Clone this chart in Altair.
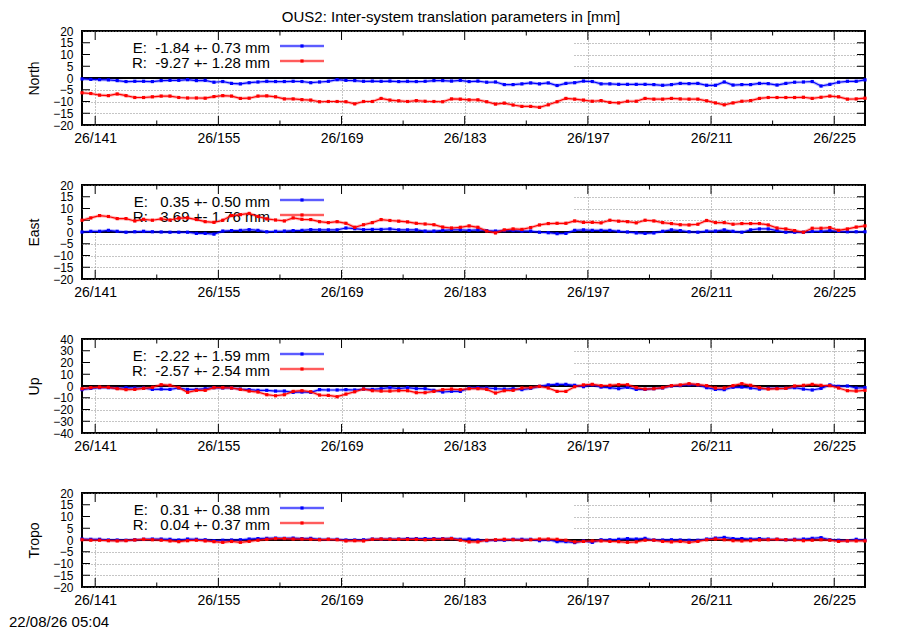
import altair as alt
import pandas as pd

FONT = "Liberation Sans"
FS = 15          # title, legend, timestamp
FS_X = 14        # x tick labels
FS_Y = 12        # y tick labels
FS_T = 14        # axis titles
TITLE = "OUS2: Inter-system translation parameters in [mm]"
STAMP = "22/08/26 05:04"

DAY0 = 139.5
DAYS = [DAY0 + i for i in range(90)]
X_DOMAIN = [139.5, 228.5]
X_MAJOR = [141, 155, 169, 183, 197, 211, 225]
X_MINOR = [148, 162, 176, 190, 204, 218]
X_PREFIX = "26/"

Y20 = [-20, -15, -10, -5, 0, 5, 10, 15, 20]
Y40 = [-40, -30, -20, -10, 0, 10, 20, 30, 40]

NORTH_E = [-0.4, -0.6, -0.7, -0.8, -1.1, -1.5, -1.4, -1.4, -1.5, -1.1,
           -1.0, -1.0, -0.7, -1.1, -1.0, -1.8, -1.5, -2.3, -2.5, -2.0,
           -1.7, -1.4, -1.5, -1.5, -1.4, -1.5, -2.0, -1.7, -1.4, -0.7,
           -1.0, -1.1, -1.4, -1.3, -1.4, -1.3, -1.5, -1.4, -1.5, -1.4,
           -1.1, -1.1, -1.3, -1.0, -1.5, -1.3, -1.8, -1.7, -2.8, -2.8,
           -2.5, -2.1, -2.5, -2.1, -3.2, -2.3, -2.0, -1.3, -1.5, -2.5,
           -2.5, -2.7, -2.7, -2.7, -2.7, -2.8, -3.1, -2.8, -2.3, -2.4,
           -2.3, -3.1, -3.1, -1.7, -3.0, -2.8, -2.8, -2.3, -2.4, -3.0,
           -2.3, -1.8, -1.7, -1.5, -3.4, -2.7, -1.8, -1.4, -1.4, -0.8]
NORTH_R = [-6.3, -6.6, -7.3, -7.5, -6.8, -7.5, -8.3, -8.3, -8.0, -7.7,
           -7.7, -8.3, -8.5, -8.5, -8.6, -7.9, -7.5, -7.7, -8.7, -8.6,
           -7.7, -7.6, -8.0, -8.9, -8.9, -9.2, -9.4, -10.1, -10.0, -10.0,
           -10.1, -11.0, -10.0, -10.0, -8.7, -9.4, -9.7, -10.0, -9.6, -9.9,
           -10.0, -10.1, -8.9, -9.0, -9.3, -9.3, -10.1, -11.1, -10.7, -11.5,
           -12.1, -12.1, -12.5, -11.4, -10.1, -8.7, -9.0, -9.4, -9.9, -9.6,
           -10.4, -10.6, -9.9, -9.9, -8.7, -9.0, -9.0, -8.7, -8.9, -9.0,
           -9.0, -9.7, -10.6, -11.4, -10.6, -9.9, -9.6, -8.7, -8.3, -8.3,
           -8.3, -8.3, -8.2, -8.7, -8.2, -7.7, -8.0, -9.0, -8.9, -8.6]

EAST_E = [0.0, 0.3, 0.3, 0.7, 0.3, -0.1, 0.1, 0.3, 0.1, 0.0,
          -0.1, -0.1, -0.1, -0.6, -0.6, -0.9, 0.4, 0.6, 0.7, 1.0,
          0.7, 0.1, 0.3, 0.4, 0.6, 0.7, 1.0, 0.9, 0.9, 0.9,
          1.7, 1.4, 1.0, 1.1, 1.1, 1.3, 0.9, 0.9, 0.9, 0.4,
          0.4, 0.7, 0.9, 0.9, 0.7, 0.9, 0.6, 0.4, 0.6, 0.6,
          0.4, 0.4, -0.1, -0.3, -0.7, -0.6, 0.7, 0.9, 0.7, 0.7,
          0.7, 0.3, 0.0, -0.4, -0.6, -0.4, 0.3, 0.9, 0.6, 0.1,
          -0.1, 0.4, 0.4, 0.9, 0.3, -0.1, 0.9, 1.3, 1.3, 0.6,
          -0.1, -0.1, -0.1, 0.3, 0.3, 0.6, 0.3, 0.1, 0.1, 0.1]
EAST_R = [5.0, 6.0, 7.0, 6.6, 5.7, 5.7, 4.7, 5.4, 5.0, 5.6,
          5.1, 5.9, 6.0, 5.3, 4.4, 4.1, 5.0, 7.0, 7.4, 7.9,
          6.6, 5.6, 5.1, 4.7, 6.0, 5.4, 5.3, 4.4, 4.0, 4.4,
          3.7, 2.0, 3.1, 4.0, 5.3, 4.9, 4.6, 4.3, 3.7, 3.4,
          3.1, 2.1, 1.7, 2.0, 2.6, 2.0, 0.4, -0.4, 0.9, 1.3,
          1.1, 1.9, 3.0, 3.6, 3.7, 3.7, 4.7, 4.1, 4.1, 3.9,
          5.0, 4.6, 4.4, 3.9, 5.0, 4.7, 4.0, 3.6, 3.1, 3.0,
          3.3, 4.9, 4.0, 4.0, 3.3, 3.6, 3.6, 3.6, 3.0, 1.7,
          1.3, 0.6, -0.1, 1.6, 1.6, 1.9, 0.7, 1.3, 2.1, 2.6]

UP_E = [-3.1, -2.0, -1.4, -1.4, -2.0, -1.4, -1.7, -1.7, -2.9, -2.6,
        -2.9, -1.7, -2.9, -2.9, -2.3, -1.4, -1.7, -1.7, -2.6, -3.1,
        -3.7, -3.7, -4.3, -4.3, -5.4, -5.1, -5.4, -3.1, -3.4, -3.4,
        -3.1, -3.4, -2.6, -2.9, -2.3, -1.4, -2.3, -1.4, -2.3, -2.3,
        -3.7, -5.1, -4.5, -4.6, -1.7, -1.4, -1.7, -2.3, -2.6, -2.3,
        -3.1, -2.0, -0.3, 0.9, 1.4, 1.4, 0.6, -0.6, 0.9, -0.9,
        -1.4, -2.3, -1.1, -2.9, -2.9, -2.3, -1.7, 0.0, 0.3, 1.1,
        0.9, -1.4, -2.9, -3.1, -1.1, -0.9, -1.7, -2.6, -2.0, -2.0,
        -2.0, -1.4, -2.6, -3.4, -2.0, 0.9, -0.3, 0.0, -1.7, -1.4]
UP_R = [-2.3, -1.4, -0.9, -1.1, -2.3, -3.1, -2.9, -2.0, -1.1, 1.1,
        0.6, -1.4, -5.4, -3.7, -3.7, -1.4, -1.4, -1.7, -2.9, -4.3,
        -5.1, -7.4, -8.3, -7.4, -4.6, -4.0, -4.9, -7.7, -8.0, -9.1,
        -6.9, -4.9, -2.6, -4.0, -4.3, -4.3, -4.0, -4.0, -5.7, -5.7,
        -4.6, -3.1, -2.6, -3.1, -2.3, -2.3, -2.9, -6.0, -4.0, -3.7,
        -1.7, -1.4, -0.3, -1.7, -4.6, -4.6, -0.6, 0.9, 1.4, 0.3,
        0.6, 1.1, 1.1, -1.4, -2.6, -2.3, -1.4, 0.3, 0.9, 2.0,
        1.1, 0.3, -1.7, -1.7, 0.3, 2.0, 0.6, -1.4, -2.6, -2.3,
        -2.0, 0.0, 0.6, 1.4, 0.6, 0.3, -1.7, -4.0, -4.3, -3.7]

TROPO_E = [0.4, 0.3, 0.3, 0.0, 0.0, -0.1, 0.1, 0.3, 0.4, 0.4,
           0.3, 0.0, 0.4, 0.3, 0.1, -0.3, -0.1, 0.0, 0.1, 0.4,
           0.6, 0.7, 0.8, 0.7, 0.8, 0.6, 0.7, 0.3, 0.3, 0.3,
           0.0, 0.0, 0.1, 0.4, 0.4, 0.4, 0.4, 0.6, 0.6, 0.6,
           0.6, 0.6, 0.7, 0.3, 0.4, 0.0, -0.3, -0.1, -0.1, 0.3,
           0.3, 0.3, -0.3, 0.1, -0.7, -0.7, -1.1, -0.4, -1.0, 0.1,
           0.1, 0.3, 0.6, 0.4, 0.7, 0.0, 0.0, 0.1, 0.0, -0.1,
           -0.1, 0.4, 0.8, 1.1, 0.6, 0.6, 0.4, 0.6, 0.4, 0.3,
           0.1, 0.3, 0.4, 0.7, 1.0, 0.1, -0.1, -0.3, 0.3, -0.1]
TROPO_R = [0.1, -0.1, -0.1, -0.3, -0.4, -0.3, 0.0, 0.3, 0.1, -0.1,
           -0.4, -0.7, -0.3, -0.1, -0.4, -0.7, -1.0, -0.6, -1.0, -0.6,
           -0.1, 0.3, 0.6, 0.6, 0.4, 0.4, 0.3, 0.1, 0.3, 0.1,
           -0.4, -0.3, -0.4, 0.3, 0.4, 0.3, 0.3, 0.3, 0.3, 0.1,
           0.3, 0.4, 0.6, -0.1, -0.8, -0.8, -0.1, 0.1, 0.3, 0.1,
           -0.1, 0.1, 0.4, 0.4, 0.3, -0.1, -0.8, -0.6, -0.4, -0.4,
           -0.6, -0.7, -1.0, -0.8, -0.1, -0.1, -0.6, -0.8, -0.6, -1.0,
           -0.6, 0.1, 0.4, 0.1, -0.3, -0.4, -0.3, 0.0, 0.1, 0.3,
           0.1, 0.0, -0.3, -0.1, 0.1, -0.1, -0.6, -0.4, -0.4, -0.4]

PANELS = [
    ("North", NORTH_E, NORTH_R, Y20, "E:  -1.84 +- 0.73 mm", "R:  -9.27 +- 1.28 mm"),
    ("East", EAST_E, EAST_R, Y20, "E:   0.35 +- 0.50 mm", "R:   3.69 +- 1.76 mm"),
    ("Up", UP_E, UP_R, Y40, "E:  -2.22 +- 1.59 mm", "R:  -2.57 +- 2.54 mm"),
    ("Tropo", TROPO_E, TROPO_R, Y20, "E:   0.31 +- 0.38 mm", "R:   0.04 +- 0.37 mm"),
]

COL_E = "#0000ff"
COL_R = "#ff0000"
GRID = "#8a8a8a"
W, H = 783, 94


def nb(s):
    return s.replace(" ", "\u00a0")


def series_layers(df, color, X, Y):
    base = alt.Chart(df)
    return [
        base.mark_line(color=color, strokeWidth=3.2, opacity=0.28).encode(x=X, y=Y),
        base.mark_line(color=color, strokeWidth=1.2).encode(x=X, y=Y),
        base.mark_point(color=color, filled=True, shape="square", size=10, opacity=1).encode(x=X, y=Y),
    ]


def legend_layers(text, color, ty, ly):
    tdf = pd.DataFrame({"t": [nb(text)]})
    base = alt.Chart(tdf)
    return [
        base.mark_text(font=FONT, fontSize=FS, align="right", baseline="middle", color="black").encode(
            text="t:N", x=alt.value(188), y=alt.value(ty)),
        base.mark_rule(color=color, strokeWidth=3.2, opacity=0.28).encode(
            x=alt.value(198), x2=alt.value(242), y=alt.value(ly)),
        base.mark_rule(color=color, strokeWidth=1.2).encode(
            x=alt.value(198), x2=alt.value(242), y=alt.value(ly)),
        base.mark_point(color=color, filled=True, shape="square", size=10, opacity=1).encode(
            x=alt.value(220), y=alt.value(ly)),
    ]


def panel(name, e_vals, r_vals, yticks, leg_e, leg_r, top=False, bottom=False):
    xs = alt.Scale(domain=X_DOMAIN, nice=False, zero=False)
    ys = alt.Scale(domain=[yticks[0], yticks[-1]], nice=False, zero=False)
    xaxis = alt.Axis(values=X_MAJOR, labelExpr=f"'{X_PREFIX}' + datum.value", title=None,
                     ticks=False, domain=False, labelPadding=6, labelFont=FONT, labelFontSize=FS_X,
                     labelColor="black", labelFlush=False, labelOverlap=False,
                     grid=True, gridColor=GRID, gridDash=[1, 2], gridWidth=1)
    yaxis = alt.Axis(values=yticks, title=name, titleX=-44, titleBaseline="alphabetic",
                     titleFont=FONT, titleFontSize=FS_T, titleFontWeight="normal", titleColor="black",
                     ticks=False, domain=False, labelPadding=9, labelFont=FONT, labelFontSize=FS_Y,
                     labelColor="black", labelFlush=False, labelOverlap=False, labelBaseline="middle",
                     grid=True, gridColor=GRID, gridDash=[1, 2], gridWidth=1)
    X = alt.X("day:Q", scale=xs, axis=xaxis)
    Y = alt.Y("value:Q", scale=ys, axis=yaxis)

    zero_df = pd.DataFrame({"value": [0]})
    ytk = pd.DataFrame({"value": yticks})
    xmaj = pd.DataFrame({"day": X_MAJOR})
    xmin = pd.DataFrame({"day": X_MINOR})

    layers = [
        alt.Chart(zero_df).mark_rect(color="white").encode(
            y=Y, y2=alt.value(1), x=alt.value(1), x2=alt.value(492)),
        alt.Chart(ytk).mark_rule(color="black", strokeWidth=1).encode(y=Y, x=alt.value(0), x2=alt.value(8)),
        alt.Chart(ytk).mark_rule(color="black", strokeWidth=1).encode(y=Y, x=alt.value(W - 8), x2=alt.value(W)),
        alt.Chart(xmaj).mark_rule(color="black", strokeWidth=1).encode(x=X, y=alt.value(H), y2=alt.value(H - 9)),
        alt.Chart(xmaj).mark_rule(color="black", strokeWidth=1).encode(x=X, y=alt.value(0), y2=alt.value(9)),
        alt.Chart(xmin).mark_rule(color="black", strokeWidth=1).encode(x=X, y=alt.value(H), y2=alt.value(H - 4.5)),
        alt.Chart(xmin).mark_rule(color="black", strokeWidth=1).encode(x=X, y=alt.value(0), y2=alt.value(4.5)),
        alt.Chart(zero_df).mark_rule(color="black", strokeWidth=1.8).encode(y=Y),
    ]
    layers += legend_layers(leg_e, COL_E, 17, 15)
    layers += legend_layers(leg_r, COL_R, 32, 30)
    layers += series_layers(pd.DataFrame({"day": DAYS, "value": e_vals}), COL_E, X, Y)
    layers += series_layers(pd.DataFrame({"day": DAYS, "value": r_vals}), COL_R, X, Y)
    if top:
        layers.append(alt.Chart(pd.DataFrame({"t": [TITLE]})).mark_text(
            font=FONT, fontSize=FS, align="center", baseline="top", color="black").encode(
            text="t:N", x=alt.value(369), y=alt.value(-21.3)))
    if bottom:
        layers.append(alt.Chart(pd.DataFrame({"t": [STAMP]})).mark_text(
            font=FONT, fontSize=FS, align="left", baseline="middle", color="black").encode(
            text="t:N", x=alt.value(-73), y=alt.value(128.5)))
    return alt.layer(*layers).properties(width=W, height=H)


charts = [panel(*p, top=(i == 0), bottom=(i == len(PANELS) - 1)) for i, p in enumerate(PANELS)]

chart = alt.vconcat(*charts, spacing=60, bounds="flush").properties(
    padding={"left": 0, "top": 0, "right": 8, "bottom": 0}
).configure_view(stroke="black", strokeWidth=2)

chart.save("out.html", embed_options={"renderer": "svg", "actions": False})
